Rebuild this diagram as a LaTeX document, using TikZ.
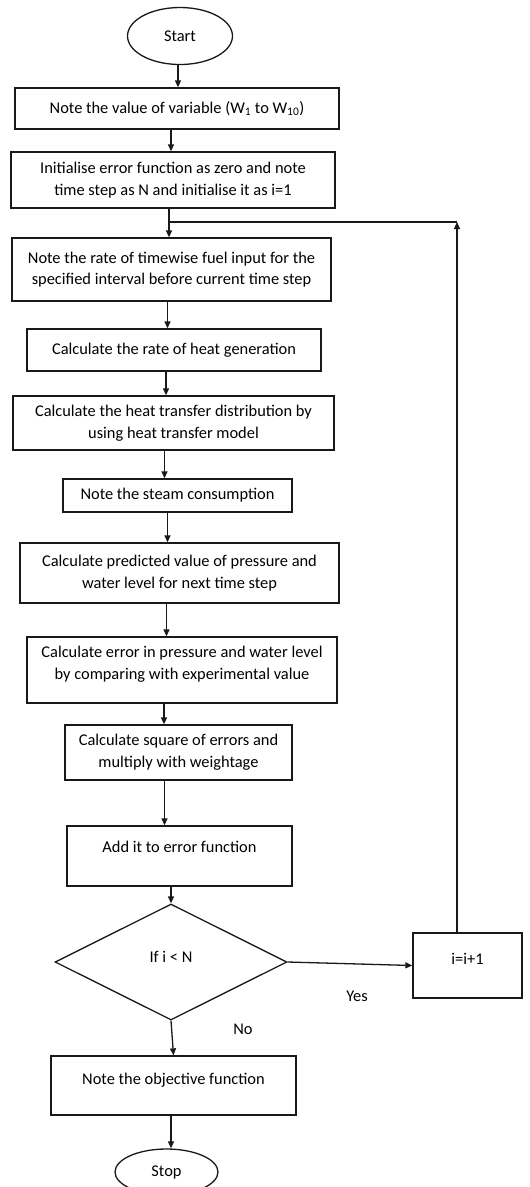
\documentclass[tikz,border=0pt]{standalone}
\usepackage{fontspec}
\setmainfont{Carlito}
\usetikzlibrary{shapes.geometric,arrows.meta}
\begin{document}
\begin{tikzpicture}[x=1pt,y=-1pt,
  txt/.style={font=\fontsize{16.4}{21.7}\selectfont, text=black, align=center},
  box/.style={txt, draw=black!90, line width=1.3pt, rectangle, inner sep=0pt},
  term/.style={txt, draw=black!90, line width=1.3pt, ellipse, inner sep=0pt},
  dec/.style={txt, draw=black!90, line width=1.3pt, diamond, inner sep=0pt},
  line/.style={draw=black!90, line width=1.3pt},
  arr/.style={line, -{Triangle[length=7pt,width=6pt]}}]
\useasboundingbox (0,0) rectangle (530,1187);
\node[term, minimum width=105pt, minimum height=57pt] (start) at (180,36) {Start};
\node[box, minimum width=324pt, minimum height=41pt] (b1) at (177,108.5) {Note the value of variable (W\textsubscript{1} to W\textsubscript{10})};
\node[box, minimum width=324pt, minimum height=56pt] (b2) at (173,180) {Initialise error function as zero and note\\time step as N and initialise it as i=1};
\node[box, minimum width=319pt, minimum height=63pt] (b3) at (171.5,269.5) {Note the rate of timewise fuel input for the\\specified interval before current time step};
\node[box, minimum width=294pt, minimum height=42pt] (b4) at (174,350) {Calculate the rate of heat generation};
\node[box, minimum width=321pt, minimum height=54pt] (b5) at (173.5,423) {Calculate the heat transfer distribution by\\using heat transfer model};
\node[box, minimum width=229pt, minimum height=33pt] (b6) at (177.5,495.5) {Note the steam consumption};
\node[box, minimum width=319pt, minimum height=60pt] (b7) at (179.5,573) {Calculate predicted value of pressure and\\water level for next time step};
\node[box, minimum width=310pt, minimum height=66pt, text depth=14pt] (b8) at (182,670) {Calculate error in pressure and water level\\by comparing with experimental value};
\node[box, minimum width=227pt, minimum height=55pt] (b9) at (178.5,752.5) {Calculate square of errors and\\multiply with weightage};
\node[box, minimum width=225pt, minimum height=60pt, text depth=18pt] (b10) at (179.5,856) {Add it to error function};
\node[dec, minimum width=232pt, minimum height=116pt, text depth=10pt] (dia) at (171,962) {If i < N};
\node[box, minimum width=109pt, minimum height=65pt, text depth=13pt] (inc) at (467.5,965.5) {i=i+1};
\node[box, minimum width=245pt, minimum height=59pt, text depth=14pt] (b11) at (173.5,1085.5) {Note the objective function};
\node[term, minimum width=103pt, minimum height=46pt] (stop) at (166.5,1172) {Stop};
\node[txt] (yes) at (357,996) {Yes};
\node[txt] (no) at (243,1029) {No};
\coordinate (j) at (169,222);
\coordinate (lp) at (457,222);
\draw[arr] ([xshift=-2pt]start.south) -- ([xshift=-2pt]start.south |- b1.north);
\draw[arr] ([xshift=-6pt]b1.south) -- ([xshift=-6pt]b1.south |- b2.north);
\draw[line] (b2.south -| j) -- (j);
\draw[arr] (j) -- (j |- b3.north);
\draw[arr] (inc.north -| lp) -- (lp);
\draw[line] (lp) -- (j);
\draw[arr] ([xshift=-4pt]b3.south) -- ([xshift=-4pt]b3.south |- b4.north);
\draw[arr] ([xshift=-8pt]b4.south) -- ([xshift=-8pt]b4.south |- b5.north);
\draw[arr] ([xshift=-9pt]b5.south) -- ([xshift=-9pt]b5.south |- b6.north);
\draw[arr] ([xshift=-10pt]b6.south) -- ([xshift=-10pt]b6.south |- b7.north);
\draw[arr] ([xshift=-13pt]b7.south) -- ([xshift=-13pt]b7.south |- b8.north);
\draw[arr] ([xshift=-18pt]b8.south) -- ([xshift=-18pt]b8.south |- b9.north);
\draw[arr] ([xshift=-14pt]b9.south) -- ([xshift=-14pt]b9.south |- b10.north);
\draw[arr] ([xshift=-8.5pt]b10.south) -- (dia.north);
\draw[arr] (dia.east) -- (inc.west);
\draw[arr] (dia.south) -- (b11.north);
\draw[arr] ([xshift=-2.5pt]b11.south) -- ([xshift=-2.5pt]b11.south |- stop.north);
\end{tikzpicture}
\end{document}
